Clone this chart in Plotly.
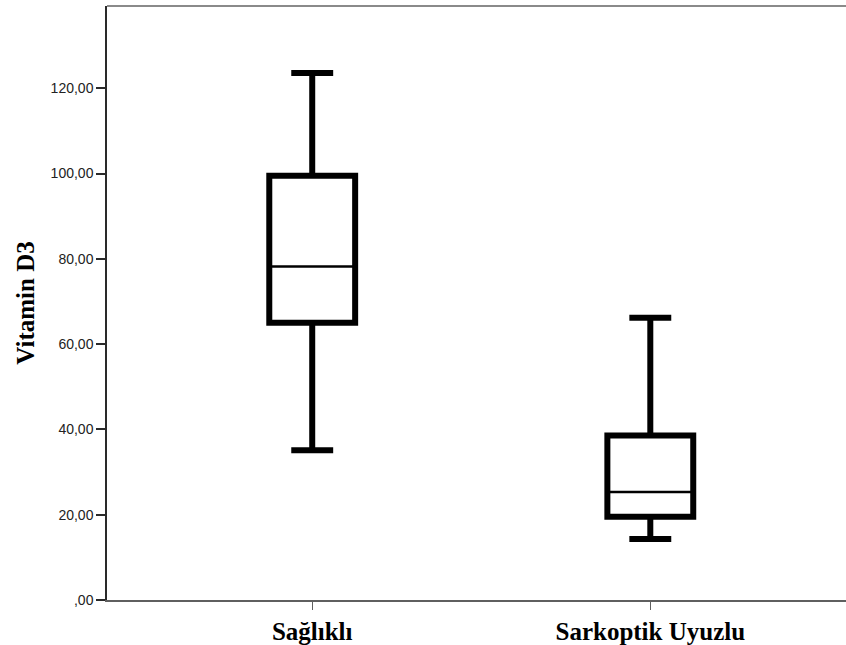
import plotly.graph_objects as go

categories = ["Sağlıklı", "Sarkoptik Uyuzlu"]
upper_whisker = [123.6, 66.2]
q3 = [99.5, 38.6]
median = [78.2, 25.3]
q1 = [65.0, 19.5]
lower_whisker = [35.1, 14.3]

y_tickvals = [0, 20, 40, 60, 80, 100, 120]
y_ticktext = [",00", "20,00", "40,00", "60,00", "80,00", "100,00", "120,00"]

BOX_HALF = 0.127
CAP_HALF = 0.062

fig = go.Figure()

for i, cat in enumerate(categories):
    xs, ys = [], []
    # upper whisker
    xs += [i, i, None]; ys += [q3[i], upper_whisker[i], None]
    # lower whisker
    xs += [i, i, None]; ys += [lower_whisker[i], q1[i], None]
    # caps
    xs += [i - CAP_HALF, i + CAP_HALF, None]; ys += [upper_whisker[i], upper_whisker[i], None]
    xs += [i - CAP_HALF, i + CAP_HALF, None]; ys += [lower_whisker[i], lower_whisker[i], None]
    # box outline (start mid-top to avoid corner notch)
    xs += [i, i + BOX_HALF, i + BOX_HALF, i - BOX_HALF, i - BOX_HALF, i, None]
    ys += [q3[i], q3[i], q1[i], q1[i], q3[i], q3[i], None]
    fig.add_trace(go.Scatter(x=xs, y=ys, mode="lines",
                             line=dict(color="black", width=6),
                             hoverinfo="skip", showlegend=False))
    fig.add_trace(go.Scatter(x=[i - BOX_HALF, i + BOX_HALF], y=[median[i], median[i]],
                             mode="lines", line=dict(color="black", width=2.5),
                             name=cat, showlegend=False))

fig.update_layout(
    width=866, height=645,
    margin=dict(l=107, r=0, t=6, b=42),
    plot_bgcolor="white", paper_bgcolor="white",
    showlegend=False,
    xaxis=dict(
        range=[-0.607, 1.638],
        tickvals=[0, 1], ticktext=categories,
        showgrid=False, zeroline=False,
        showline=True, linecolor="#5f5f5f", linewidth=2,
        ticks="outside", ticklen=8, tickcolor="#5f5f5f", tickwidth=1,
        tickfont=dict(family="Liberation Serif", size=25, color="black", weight="bold"),
    ),
    yaxis=dict(
        range=[0, 139.3],
        tickvals=y_tickvals, ticktext=y_ticktext,
        showgrid=False, zeroline=False,
        showline=True, linecolor="#2a2a2a", linewidth=1.5,
        ticks="outside", ticklen=9, tickcolor="#2a2a2a", tickwidth=1.5,
        tickfont=dict(family="Liberation Sans", size=14, color="#222222"),
        title=dict(text="<b>Vitamin D3</b>", standoff=9,
                   font=dict(family="Liberation Serif", size=25, color="black")),
    ),
    shapes=[dict(type="line", xref="paper", yref="paper", x0=0, x1=1, y0=1, y1=1,
                 line=dict(color="#8a8a8a", width=2))],
)

fig.write_html(
    "out.html",
    config={"displayModeBar": False},
    post_script="document.body.style.margin='0';document.body.style.overflow='hidden';",
)
